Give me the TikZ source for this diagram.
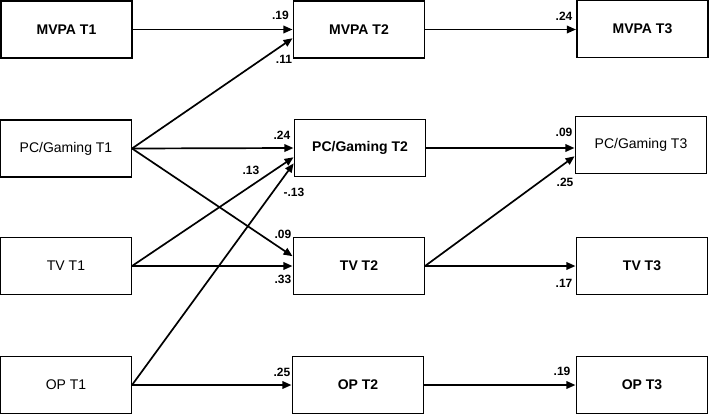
\documentclass[tikz,border=0pt]{standalone}
\usepackage{fontspec}
\setmainfont{Liberation Sans}
\usetikzlibrary{positioning,arrows.meta}

\begin{document}
\begin{tikzpicture}[x=1pt,y=-1pt,
    >={Triangle[length=9pt,width=7.5pt]},
    var/.style={draw,line width=1.1pt,fill=white,minimum width=131pt,
        minimum height=57pt,inner sep=0pt,font=\fontsize{14}{16}\selectfont},
    heavy/.style={var,font=\fontsize{14}{16}\selectfont\bfseries},
    path/.style={->,line width=1.7pt,shorten >=0.5pt},
    coef/.style={inner sep=0pt,font=\fontsize{12}{14}\selectfont\bfseries}]
    \useasboundingbox (0,0) rectangle (709,415);

    % time 1
    \node[heavy] (mvpa1) at (66.5,29.5) {MVPA T1};
    \node[var] (pc1) at (66,148.5) {PC/Gaming T1};
    \node[var] (tv1) at (66,266) {TV T1};
    \node[var] (op1) at (66,385) {OP T1};
    % time 2
    \node[heavy] (mvpa2) at (359,29.5) {MVPA T2};
    \node[heavy] (pc2) at (360,148) {PC/Gaming T2};
    \node[heavy] (tv2) at (359,266) {TV T2};
    \node[heavy] (op2) at (358,385) {OP T2};
    % time 3
    \node[heavy] (mvpa3) at (642.5,29) {MVPA T3};
    \node[var] (pc3) at (641,145) {PC/Gaming T3};
    \node[heavy] (tv3) at (642,266) {TV T3};
    \node[heavy] (op3) at (642,385) {OP T3};

    % paths T1 -> T2
    \draw[path] (mvpa1.east) -- (mvpa2.west);
    \draw[path] (pc1.east) -- ([yshift=-8.5pt]mvpa2.west);
    \draw[path] (pc1.east) -- (pc2.west);
    \draw[path] (pc1.east) -- ([yshift=9.5pt]tv2.west);
    \draw[path] (tv1.east) -- ([yshift=-9pt]pc2.west);
    \draw[path] (tv1.east) -- (tv2.west);
    \draw[path] (op1.east) -- ([yshift=-15pt]pc2.west);
    \draw[path] (op1.east) -- (op2.west);
    % paths T2 -> T3
    \draw[path] (mvpa2.east) -- (mvpa2.east -| mvpa3.west);
    \draw[path] (pc2.east) -- (pc2.east -| pc3.west);
    \draw[path] (tv2.east) -- ([yshift=-11pt]pc3.west);
    \draw[path] (tv2.east) -- (tv3.west);
    \draw[path] (op2.east) -- (op3.west);

    % coefficients
    \node[coef] (b1) at (280.5,15) {.19};
    \node[coef] (b2) at (284,59) {.11};
    \node[coef] (b3) at (282,135) {.24};
    \node[coef] (b4) at (251,170) {.13};
    \node[coef] (b5) at (294,192) {-.13};
    \node[coef] (b6) at (283,234) {.09};
    \node[coef] (b7) at (283,279) {.33};
    \node[coef] (b8) at (282,372) {.25};
    \node[coef] (b9) at (564,16) {.24};
    \node[coef] (b10) at (564,132) {.09};
    \node[coef] (b11) at (565,182) {.25};
    \node[coef] (b12) at (564,283) {.17};
    \node[coef] (b13) at (562,371) {.19};
\end{tikzpicture}
\end{document}
